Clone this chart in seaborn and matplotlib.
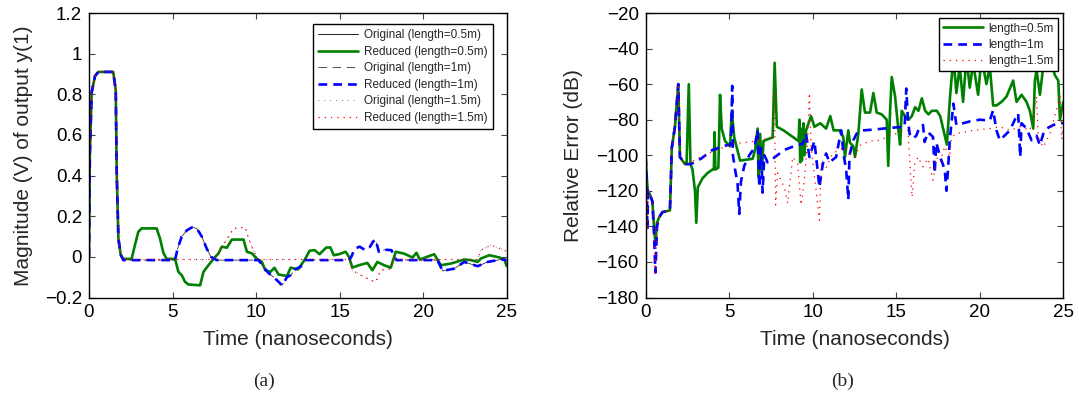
import matplotlib
matplotlib.use("Agg")
import matplotlib.pyplot as plt
import seaborn as sns
import pandas as pd

# ---------------- (a) Magnitude of output y(1) ----------------
t_a_05 = [0, 0.05, 0.16, 0.36, 0.56, 1.45, 1.60, 1.66, 1.76, 1.90,
          2.05, 2.55, 2.75, 2.95, 3.15, 4.05, 4.25, 4.45, 4.65, 5.15,
          5.35, 5.55, 5.75, 5.95, 6.65, 6.85, 7.15, 7.45, 7.75, 7.95,
          8.25, 8.55, 9.25, 9.45, 9.75, 10.05, 10.35, 10.55, 10.85, 11.10,
          11.35, 11.85, 12.07, 12.50, 12.90, 13.20, 13.50, 13.80, 14.20, 14.45,
          14.65, 14.96, 15.36, 15.56, 15.76, 16.16, 16.66, 16.96, 17.26, 17.66,
          18.06, 18.36, 18.86, 19.36, 19.60, 19.80, 20.66, 21.06, 21.66, 22.46,
          22.86, 23.26, 23.46, 23.96, 24.56, 24.86, 25.0]
v_a_05 = [0, 0.50, 0.81, 0.89, 0.91, 0.91, 0.82, 0.41, 0.09, 0.01,
          -0.01, -0.01, 0.058, 0.123, 0.14, 0.14, 0.09, 0.02, -0.01, -0.01,
          -0.074, -0.09, -0.123, -0.136, -0.14, -0.074, -0.041, -0.01, 0.017, 0.05,
          0.045, 0.085, 0.085, 0.025, 0.017, -0.01, -0.025, -0.066, -0.074, -0.054,
          -0.087, -0.094, -0.053, -0.062, -0.016, 0.03, 0.033, 0.013, 0.046, 0.046,
          0.008, 0.013, 0.025, 0.0, -0.053, -0.041, -0.03, -0.066, -0.025, -0.041,
          -0.053, 0.025, 0.016, -0.003, 0.02, -0.013, 0.013, -0.041, -0.033, -0.013,
          -0.016, -0.025, -0.008, 0.008, -0.003, -0.013, -0.046]

t_a_1 = [0, 0.05, 0.16, 0.36, 0.56, 1.45, 1.60, 1.66, 1.76, 1.90,
         2.05, 5.15, 5.30, 5.55, 5.85, 6.15, 6.45, 6.75, 7.05, 7.30,
         7.65, 10.15, 10.45, 10.75, 11.05, 11.35, 11.55, 11.85, 12.07, 12.35,
         12.65, 12.95, 15.56, 15.70, 15.90, 16.20, 16.50, 16.75, 17.00, 17.15,
         17.35, 17.70, 18.10, 18.40, 20.86, 21.16, 21.86, 22.46, 23.26, 23.86,
         24.66, 25.0]
v_a_1 = [0, 0.50, 0.81, 0.89, 0.91, 0.91, 0.82, 0.41, 0.09, 0.01,
         -0.016, -0.016, 0.04, 0.10, 0.13, 0.145, 0.14, 0.10, 0.04, 0.0,
         -0.016, -0.016, -0.05, -0.08, -0.10, -0.123, -0.14, -0.10, -0.09, -0.06,
         -0.05, -0.016, -0.016, 0.0, 0.04, 0.05, 0.035, 0.04, 0.075, 0.085,
         0.025, 0.035, 0.033, -0.016, -0.016, -0.069, -0.058, -0.025, -0.046, -0.025,
         -0.013, -0.016]

t_a_15 = [0, 0.05, 0.16, 0.36, 0.56, 1.45, 1.60, 1.66, 1.76, 1.90,
          2.05, 7.45, 7.75, 7.95, 8.35, 8.65, 9.35, 9.55, 9.85, 10.15,
          15.56, 15.76, 16.26, 16.86, 17.16, 17.46, 18.06, 18.26, 23.26, 23.46,
          24.06, 24.86, 25.0]
v_a_15 = [0, 0.50, 0.81, 0.89, 0.91, 0.91, 0.82, 0.41, 0.09, 0.01,
          -0.013, -0.013, 0.017, 0.05, 0.10, 0.14, 0.145, 0.09, 0.03, -0.013,
          -0.013, -0.066, -0.09, -0.115, -0.123, -0.066, -0.058, -0.013, -0.013, 0.033,
          0.058, 0.033, 0.025]

legend_a = ["Original (length=0.5m)", "Reduced (length=0.5m)",
            "Original (length=1m)", "Reduced (length=1m)",
            "Original (length=1.5m)", "Reduced (length=1.5m)"]
yticks_a = [-0.2, 0, 0.2, 0.4, 0.6, 0.8, 1.0, 1.2]
yticklabels_a = ["\u22120.2", "0", "0.2", "0.4", "0.6", "0.8", "1", "1.2"]

# ---------------- (b) Relative error (dB) ----------------
t_b_05 = [0.00, 0.06, 0.12, 0.25, 0.40, 0.50, 0.58, 0.68, 0.80, 1.00,
          1.45, 1.52, 1.56, 1.75, 1.95, 2.05, 2.35, 2.45, 2.58, 2.68,
          2.80, 2.95, 3.03, 3.12, 3.40, 3.70, 4.00, 4.08, 4.12, 4.17,
          4.35, 4.45, 4.55, 4.75, 5.05, 5.15, 5.30, 5.65, 6.40, 6.55,
          6.70, 6.75, 6.85, 6.95, 7.05, 7.30, 7.60, 7.72, 7.85, 8.25,
          8.85, 9.15, 9.20, 9.25, 9.30, 9.35, 9.45, 9.50, 9.60, 9.90,
          10.10, 10.45, 10.80, 11.05, 11.25, 11.63, 11.83, 11.93, 12.13, 12.23,
          12.43, 12.53, 12.73, 12.93, 13.13, 13.43, 13.63, 13.83, 14.13, 14.43,
          14.52, 14.63, 14.73, 14.93, 15.13, 15.23, 15.33, 15.53, 15.73, 15.93,
          16.13, 16.33, 16.53, 16.73, 16.93, 17.13, 17.43, 17.63, 17.83, 18.03,
          18.22, 18.42, 18.60, 18.80, 19.00, 19.20, 19.40, 19.60, 19.90, 20.10,
          20.40, 20.60, 20.80, 21.00, 21.30, 21.60, 22.00, 22.20, 22.50, 22.80,
          23.00, 23.20, 23.30, 23.40, 23.60, 23.80, 24.20, 24.50, 24.70, 24.80,
          25.00]
e_b_05 = [-101, -112, -120, -122, -126, -140, -150, -138, -135, -132,
          -131, -110, -96, -84, -60, -101, -105, -104, -60, -105,
          -108, -120, -138, -118, -113, -110, -108, -108, -87, -108,
          -107, -66, -85, -92, -95, -75, -90, -103, -102, -97,
          -85, -112, -88, -110, -92, -91, -90, -48, -84, -86,
          -90, -92, -80, -104, -85, -103, -82, -100, -86, -78,
          -84, -82, -85, -78, -86, -86, -90, -101, -86, -93,
          -95, -101, -88, -63, -76, -76, -65, -76, -77, -80,
          -106, -75, -56, -67, -86, -94, -75, -78, -80, -78,
          -73, -75, -68, -75, -77, -75, -75, -78, -86, -94,
          -67, -45, -65, -50, -70, -45, -62, -48, -66, -45,
          -60, -50, -72, -72, -70, -67, -58, -70, -66, -70,
          -75, -85, -58, -52, -66, -50, -46, -55, -58, -80,
          -70]

t_b_1 = [0.00, 0.06, 0.10, 0.14, 0.25, 0.40, 0.50, 0.58, 0.68, 0.80,
         1.00, 1.45, 1.52, 1.56, 1.75, 1.95, 2.05, 2.35, 2.70, 3.30,
         4.00, 4.80, 5.10, 5.18, 5.22, 5.35, 5.50, 5.60, 5.70, 5.90,
         6.20, 6.50, 6.70, 6.80, 6.90, 7.00, 7.10, 7.30, 7.60, 8.30,
         9.00, 9.40, 9.60, 9.80, 10.10, 10.40, 10.60, 10.80, 11.00, 11.40,
         11.70, 11.85, 12.00, 12.13, 12.20, 12.43, 12.63, 13.00, 13.63, 14.63,
         15.50, 15.60, 15.70, 15.80, 16.00, 16.20, 16.40, 16.60, 16.70, 16.90,
         17.20, 17.30, 17.40, 17.63, 17.90, 18.00, 18.10, 18.20, 18.42, 18.60,
         19.40, 20.00, 20.60, 20.80, 21.00, 21.20, 21.80, 22.10, 22.30, 22.42,
         22.50, 22.80, 23.10, 23.40, 23.60, 23.80, 24.00, 24.40, 24.80, 25.00]
e_b_1 = [-101, -112, -142, -120, -122, -126, -145, -166, -140, -135,
         -132, -131, -110, -96, -84, -60, -101, -105, -105, -102,
         -97, -94.5, -94, -61, -100, -108, -116, -133, -115, -106,
         -100, -96, -86, -118, -96, -121, -100, -104, -102, -97,
         -94.5, -93.6, -88, -101, -92, -118, -105, -99, -104, -101,
         -86, -100, -108, -125, -100, -91.6, -87.8, -86, -85.6, -84.6,
         -84, -62.5, -80, -88, -90.6, -89, -84, -83, -92.5, -87,
         -89.7, -110, -93, -101, -108, -120, -108, -92, -71, -83,
         -81, -80, -80.5, -74.7, -86, -91.6, -86, -80, -76.5, -101,
         -82, -85, -91.6, -89, -94.4, -88, -85, -83, -82, -82]

t_b_15 = [0.00, 0.06, 0.10, 0.14, 0.25, 0.40, 0.50, 0.58, 0.68, 0.80,
          1.00, 1.45, 1.52, 1.56, 1.75, 1.95, 2.05, 2.35, 2.70, 3.05,
          4.00, 5.20, 6.20, 7.20, 7.60, 7.70, 7.78, 7.90, 8.30, 8.50,
          8.80, 9.10, 9.30, 9.50, 9.70, 9.80, 9.90, 10.40, 10.50, 10.80,
          11.20, 11.90, 12.20, 12.50, 12.83, 13.43, 14.03, 14.63, 15.23, 15.70,
          15.85, 15.95, 16.10, 16.30, 16.60, 16.90, 17.20, 17.40, 17.63, 17.90,
          18.20, 18.30, 18.60, 19.60, 20.60, 21.20, 21.80, 22.40, 23.00, 23.40,
          23.50, 23.80, 24.20, 24.80, 24.90, 25.00]
e_b_15 = [-101, -112, -142, -120, -122, -126, -145, -166, -140, -135,
          -132, -131, -110, -96, -84, -60, -101, -105, -104, -102,
          -98, -93.6, -92.6, -90.8, -90, -64, -128, -110, -118, -127,
          -101, -105, -128, -114, -90, -65, -95, -136.5, -105, -107,
          -99, -95.4, -99, -101, -94.4, -92, -91.6, -88.8, -87, -86,
          -110, -123.5, -105, -101, -106.5, -102, -114, -101, -104, -95,
          -101, -90, -87.8, -86, -85, -84, -86, -84, -86, -67,
          -90, -95.4, -88, -67, -91, -85]

legend_b = ["length=0.5m", "length=1m", "length=1.5m"]
yticks_b = [-180, -160, -140, -120, -100, -80, -60, -40, -20]
xticks = [0, 5, 10, 15, 20, 25]

# ---------------- styling ----------------
sns.set_style("white")
plt.rcParams["font.family"] = ["Liberation Sans", "DejaVu Sans"]

GREEN, BLUE, RED = "#008000", "#0000ff", "#ff0000"
W, H = 1079, 398
fig = plt.figure(figsize=(W / 100, H / 100), dpi=100)
axA = fig.add_axes([89 / W, 1 - 297.5 / H, 417.7 / W, 284.5 / H])
axB = fig.add_axes([645.7 / W, 1 - 297.5 / H, 417.6 / W, 284.5 / H])

def line(ax, x, y, **kw):
    df = pd.DataFrame({"t": x, "v": y})
    sns.lineplot(data=df, x="t", y="v", ax=ax, estimator=None, sort=False,
                 legend=False, **kw)
    return ax.get_lines()[-1]

# (a)
hA = []
hA.append(line(axA, t_a_05, v_a_05, color="black", lw=0.6, linestyle="-"))
hA.append(line(axA, t_a_05, v_a_05, color=GREEN, lw=1.9, linestyle="-"))
hA.append(line(axA, t_a_1, v_a_1, color="#333333", lw=0.6, linestyle=(0, (10, 7))))
hA.append(line(axA, t_a_1, v_a_1, color=BLUE, lw=1.9, linestyle=(0, (3.3, 2.3))))
hA.append(line(axA, t_a_15, v_a_15, color="#555555", lw=0.6, linestyle=(0, (1, 6))))
hA.append(line(axA, t_a_15, v_a_15, color=RED, lw=0.9, linestyle=(0, (1, 4))))

# (b)
hB = []
hB.append(line(axB, t_b_05, e_b_05, color=GREEN, lw=1.9, linestyle="-"))
hB.append(line(axB, t_b_1, e_b_1, color=BLUE, lw=1.9, linestyle=(0, (3.3, 2.3))))
hB.append(line(axB, t_b_15, e_b_15, color=RED, lw=0.9, linestyle=(0, (1, 4))))

for ax in (axA, axB):
    ax.set_xlim(0, 25)
    ax.set_xticks(xticks)
    ax.set_xticklabels([str(x) for x in xticks])
    ax.tick_params(direction="in", bottom=True, left=True, top=True, right=True,
                   length=4, width=0.8, color="#444444", labelsize=13.5, pad=5,
                   labelcolor="black")
    for s in ax.spines.values():
        s.set_color("black")
        s.set_linewidth(1.0)
    ax.set_xlabel("Time (nanoseconds)", fontsize=15)
    ax.xaxis.set_label_coords(0.5, -0.115)
    ax.xaxis.label.set_va("top")

axA.set_ylim(-0.2, 1.2)
axA.set_yticks(yticks_a)
axA.set_yticklabels(yticklabels_a)
axA.set_ylabel("Magnitude (V) of output y(1)", fontsize=15)
axA.yaxis.set_label_coords(-0.133, 0.5)

axB.set_ylim(-180, -20)
axB.set_yticks(yticks_b)
axB.set_yticklabels([str(v).replace("-", "\u2212") for v in yticks_b])
axB.set_ylabel("Relative Error (dB)", fontsize=15)
axB.yaxis.set_label_coords(-0.150, 0.5)

legA = axA.legend(hA, legend_a, loc="upper right", bbox_to_anchor=(0.9665, 0.961),
                  borderaxespad=0, fontsize=8.5, frameon=True, fancybox=False,
                  edgecolor="black", framealpha=1, handlelength=3.4,
                  labelspacing=0.38, handletextpad=0.45, borderpad=0.45)
legA.get_frame().set_linewidth(1.0)
legB = axB.legend(hB, legend_b, loc="upper right", bbox_to_anchor=(0.9866, 0.981),
                  borderaxespad=0, fontsize=8.5, frameon=True, fancybox=False,
                  edgecolor="black", framealpha=1, handlelength=3.4,
                  labelspacing=0.35, handletextpad=0.45, borderpad=0.35)
legB.get_frame().set_linewidth(1.0)

fig.text(264 / W, 1 - 381 / H, "(a)", ha="center", va="center", fontsize=14,
         family=["Liberation Serif", "DejaVu Serif"])
fig.text(843 / W, 1 - 381 / H, "(b)", ha="center", va="center", fontsize=14,
         family=["Liberation Serif", "DejaVu Serif"])

fig.savefig("out.png", dpi=100)
